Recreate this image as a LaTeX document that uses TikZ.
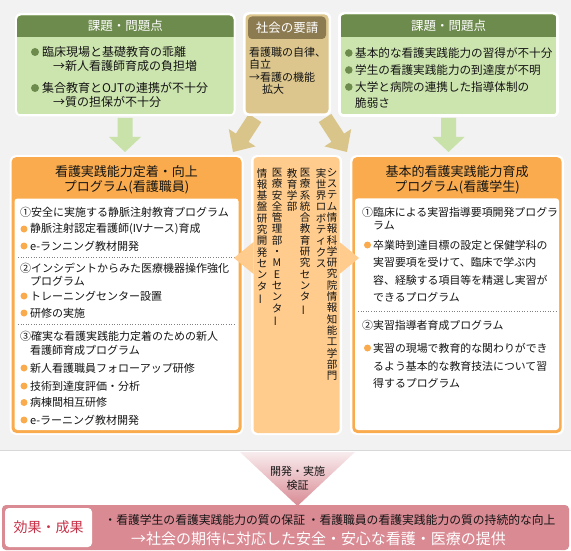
\documentclass[tikz,border=0pt]{standalone}
\usepackage{fontspec}
\setmainfont{Noto Sans CJK JP}
\usepackage{graphicx}
\definecolor{panel}{HTML}{F2F2F2}
\definecolor{panelline}{HTML}{D8D8D8}
\definecolor{gdark}{HTML}{6E8B4E}
\definecolor{glight}{HTML}{CCE4AE}
\definecolor{garrow}{HTML}{C9E2AA}
\definecolor{tanbody}{HTML}{DCC68E}
\definecolor{tanhead}{HTML}{8C7A50}
\definecolor{tanarrow}{HTML}{D9C48A}
\definecolor{orng}{HTML}{F9AB4D}
\definecolor{lorng}{HTML}{FFCC8E}
\definecolor{pinkbar}{HTML}{D98A93}
\definecolor{pinklight}{HTML}{F8ECEE}
\definecolor{redtxt}{HTML}{C8334A}
\definecolor{txtc}{HTML}{151515}
\newcommand\VB{\rotatebox[origin=c]{90}{ー}}
\tikzset{
  hd/.style={inner sep=0, text=white, font=\fontsize{12.5}{14}\selectfont},
  tl/.style={anchor=west, inner sep=0, text=txtc, font=\fontsize{12}{14}\selectfont},
  tr/.style={anchor=west, inner sep=0, text=txtc, font=\fontsize{11.6}{14}\selectfont},
  tm/.style={anchor=west, inner sep=0, text=txtc, font=\fontsize{11}{13}\selectfont},
  bl/.style={anchor=west, inner sep=0, text=txtc, font=\fontsize{11}{13}\selectfont},
  br/.style={anchor=west, inner sep=0, text=txtc, font=\fontsize{10.9}{13}\selectfont},
  ttl/.style={align=center, inner sep=0, text=txtc, font=\fontsize{13}{15}\selectfont},
  vcol/.style={anchor=north, align=center, inner sep=0, text=txtc, font=\fontsize{10.5}{11.3}\selectfont},
  sep/.style={dotted, draw=gray, line width=0.6pt},
}
\begin{document}
\begin{tikzpicture}[x=1pt,y=-1pt]
\useasboundingbox (0,0) rectangle (571,551);
\fill[white] (0,0) rectangle (571,551);
% panel
\fill[panel] (0,0) rectangle (571,450);
\draw[panelline, line width=1pt] (0,450) -- (571,450);

% tan diagonal arrows
\fill[tanarrow] (261.3,122.1) -- (248.5,141.8) -- (255.6,146.4) -- (233,152) -- (228.8,129.0) -- (235.9,133.6) -- (248.7,113.9) -- cycle;
\fill[tanarrow] (318.7,122.1) -- (331.5,141.8) -- (324.4,146.4) -- (347,152) -- (351.2,129.0) -- (344.1,133.6) -- (331.3,113.9) -- cycle;
% green arrows
\fill[garrow] (117.5,118) -- (132.5,118) -- (132.5,137) -- (141,137) -- (125,152) -- (109,137) -- (117.5,137) -- cycle;
\fill[garrow] (441,118) -- (456,118) -- (456,137) -- (464.5,137) -- (448.5,152) -- (432.5,137) -- (441,137) -- cycle;

% top-left box
\fill[white, rounded corners=6pt] (15,13) rectangle (235.5,116.5);
\begin{scope}
\clip[rounded corners=4pt] (17,15.5) rectangle (233.5,114.5);
\fill[glight] (17,15.5) rectangle (233.5,114.5);
\fill[gdark] (17,15.5) rectangle (233.5,36.7);
\end{scope}
\node[hd] (h1) at (125.3,26) {課題・問題点};
\fill[gdark] (35,52) circle (4);
\fill[gdark] (35,88) circle (4);
\node[tl] (a1) at (42,52) {臨床現場と基礎教育の乖離};
\node[tl] (a2) at (53,65.5) {→新人看護師育成の負担増};
\node[tl] (a3) at (42,88) {集合教育とOJTの連携が不十分};
\node[tl] (a4) at (53,101.5) {→質の担保が不十分};

% top-middle box
\fill[white, rounded corners=6pt] (243,12) rectangle (331,116);
\fill[tanbody, rounded corners=4pt] (245.5,14.5) rectangle (328.5,113.5);
\fill[tanhead, rounded corners=4pt] (248,16.5) rectangle (326,39);
\node[hd] (h2) at (287,27.5) {社会の要請};
\node[tm] (b1) at (249,52) {看護職の自律、};
\node[tm] (b2) at (249,64) {自立};
\node[tm] (b3) at (249,77) {→看護の機能};
\node[tm] (b4) at (262,89.5) {拡大};

% top-right box
\fill[white, rounded corners=6pt] (338,12) rectangle (559,117);
\begin{scope}
\clip[rounded corners=4pt] (340.5,14.5) rectangle (556.5,114.5);
\fill[glight] (340.5,14.5) rectangle (556.5,114.5);
\fill[gdark] (340.5,14.5) rectangle (556.5,36.7);
\end{scope}
\node[hd] (h3) at (448.5,25.5) {課題・問題点};
\fill[gdark] (348.8,53) circle (3.8);
\fill[gdark] (348.8,70) circle (3.8);
\fill[gdark] (348.8,87) circle (3.8);
\node[tr] (c1) at (355,53) {基本的な看護実践能力の習得が不十分};
\node[tr] (c2) at (355,70) {学生の看護実践能力の到達度が不明};
\node[tr] (c3) at (355,87) {大学と病院の連携した指導体制の};
\node[tr] (c4) at (355,103.5) {脆弱さ};

% middle-left box
\fill[white, rounded corners=7pt] (9.5,155) rectangle (243.5,435);
\fill[orng, rounded corners=5pt] (11.5,157) rectangle (241.5,433);
\fill[white, rounded corners=3pt] (14.5,198.5) rectangle (238.5,430);
\node[ttl] (tL) at (126.5,179.5) {看護実践能力定着・向上\\プログラム(看護職員)};
\node[bl] (l1) at (20,212) {①安全に実施する静脈注射教育プログラム};
\fill[orng] (24,229) circle (3.5);
\node[bl] (l2) at (30,229) {静脈注射認定看護師(IVナース)育成};
\fill[orng] (24,246) circle (3.5);
\node[bl] (l3) at (30,246) {e-ランニング教材開発};
\draw[sep] (18,257) -- (235,257);
\node[bl] (l4) at (20,268) {②インシデントからみた医療機器操作強化};
\node[bl] (l5) at (30,281) {プログラム};
\fill[orng] (24,296) circle (3.5);
\node[bl] (l6) at (30,296) {トレーニングセンター設置};
\fill[orng] (24,313) circle (3.5);
\node[bl] (l7) at (30,313) {研修の実施};
\draw[sep] (18,324) -- (235,324);
\node[bl] (l8) at (20,336) {③確実な看護実践能力定着のための新人};
\node[bl] (l9) at (30,350) {看護師育成プログラム};
\fill[orng] (24,368) circle (3.5);
\node[bl] (l10) at (30,368) {新人看護職員フォローアップ研修};
\fill[orng] (24,386) circle (3.5);
\node[bl] (l11) at (30,386) {技術到達度評価・分析};
\fill[orng] (24,402.5) circle (3.5);
\node[bl] (l12) at (30,402.5) {病棟間相互研修};
\fill[orng] (24,420) circle (3.5);
\node[bl] (l13) at (30,420) {e-ラーニング教材開発};

% middle-right box
\fill[white, rounded corners=7pt] (350,155) rectangle (564,435);
\fill[orng, rounded corners=5pt] (352.3,157) rectangle (561.7,433);
\fill[white, rounded corners=3pt] (355,198.3) rectangle (559,430);
\node[ttl] (tR) at (457,179.5) {基本的看護実践能力育成\\プログラム(看護学生)};
\node[br] (r1) at (362,212) {①臨床による実習指導要項開発プログラ};
\node[br] (r2) at (373,226) {ラム};
\fill[orng] (367.5,245) circle (3.5);
\node[br] (r3) at (373,245) {卒業時到達目標の設定と保健学科の};
\node[br] (r4) at (373,262.5) {実習要項を受けて、臨床で学ぶ内};
\node[br] (r5) at (373,280) {容、経験する項目等を精選し実習が};
\node[br] (r6) at (373,297) {できるプログラム};
\draw[sep] (358,311) -- (556,311);
\node[br] (r7) at (362,325) {②実習指導者育成プログラム};
\fill[orng] (367.5,348) circle (3.5);
\node[br] (r8) at (373,348) {実習の現場で教育的な関わりができ};
\node[br] (r9) at (373,366) {るよう基本的な教育技法について習};
\node[br] (r10) at (373,383) {得するプログラム};

% middle column
\fill[white, rounded corners=6pt] (251,155) rectangle (342,435);
\fill[lorng, rounded corners=4pt] (253.5,157) rectangle (339.5,433);
\fill[lorng] (253.5,242) -- (234,258) -- (253.5,274) -- cycle;
\fill[lorng] (339.5,242) -- (359,258) -- (339.5,274) -- cycle;
\node[vcol] (v1) at (332,168) {シ\\ス\\テ\\ム\\情\\報\\科\\学\\研\\究\\院\\情\\報\\知\\能\\工\\学\\部\\門};
\node[vcol] (v2) at (321,168) {実\\世\\界\\ロ\\ボ\\テ\\ィ\\ク\\ス};
\node[vcol] (v3) at (305,168) {医\\療\\系\\統\\合\\教\\育\\研\\究\\セ\\ン\\タ\\\VB};
\node[vcol] (v4) at (292,168) {教\\育\\学\\部};
\node[vcol] (v5) at (277,168) {医\\療\\安\\全\\管\\理\\部\\・\\M\\E\\セ\\ン\\タ\\\VB};
\node[vcol] (v6) at (262,168) {情\\報\\基\\盤\\研\\究\\開\\発\\セ\\ン\\タ\\\VB};

% bottom chevron
\shade[top color=pinklight, bottom color=pinkbar] (240,452) -- (355,452) -- (297.5,506) -- cycle;
\node[inner sep=0, align=center, text=txtc, font=\fontsize{11}{14}\selectfont] (dv) at (297.5,478) {開発・実施\\検証};

% bottom bar
\fill[pinkbar, rounded corners=4pt] (2,505) rectangle (569,550);
\fill[white, rounded corners=4pt] (5,508) rectangle (92,547);
\node[inner sep=0, text=redtxt, font=\fontsize{14}{16}\selectfont] (ef) at (48.5,527.5) {効果・成果};
\node[inner sep=0, text=txtc, font=\fontsize{11.8}{14}\selectfont] (e1) at (330,520) {・看護学生の看護実践能力の質の保証 ・看護職員の看護実践能力の質の持続的な向上};
\node[inner sep=0, text=white, font=\fontsize{15}{17}\selectfont] (e2) at (318.5,539) {→社会の期待に対応した安全・安心な看護・医療の提供};
\end{tikzpicture}
\end{document}
